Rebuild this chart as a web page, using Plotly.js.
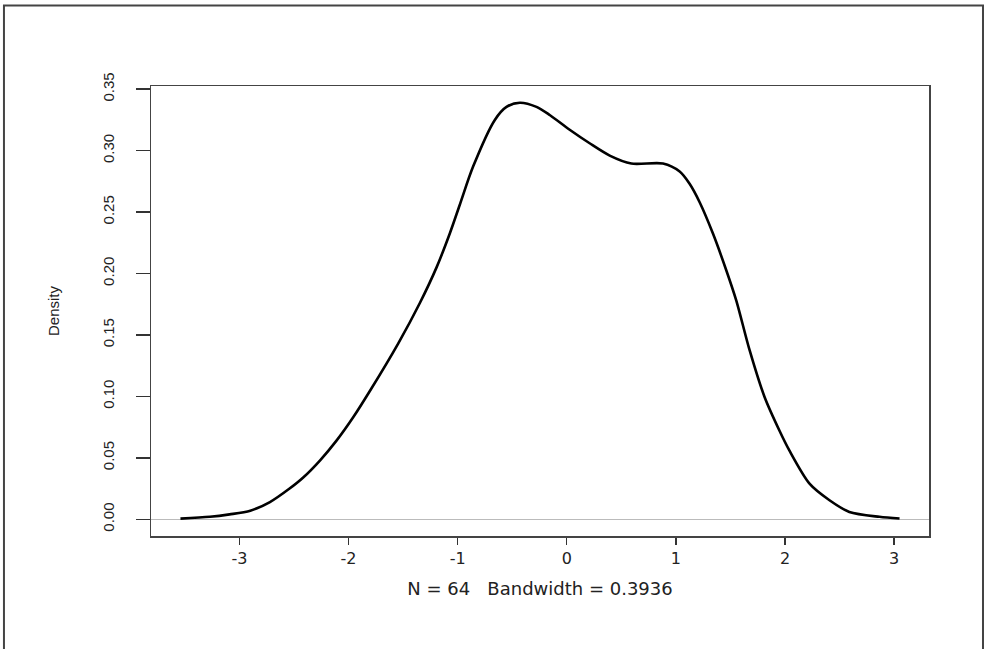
<!DOCTYPE html>
<html>
<head>
<meta charset="utf-8">
<script src="https://cdn.plot.ly/plotly-3.0.1.min.js"></script>
<style>html,body{margin:0;padding:0;background:#fff;}#chart{width:987px;height:649px;}</style>
</head>
<body>
<div id="chart"></div>
<script>
// Density estimate
const densX = [-3.54, -3.27, -3.09, -2.90, -2.72, -2.54, -2.415, -2.26, -2.11, -1.957, -1.80, -1.545, -1.346, -1.193, -1.07, -0.98, -0.858, -0.659, -0.552, -0.43, -0.277, -0.156, 0.027, 0.21, 0.394, 0.592, 0.882, 1.035, 1.126, 1.218, 1.34, 1.462, 1.554, 1.676, 1.813, 1.95, 2.04, 2.225, 2.408, 2.59, 2.866, 3.05];
const densY = [0.0005, 0.002, 0.004, 0.007, 0.014, 0.025, 0.034, 0.048, 0.064, 0.083, 0.105, 0.143, 0.176, 0.205, 0.233, 0.256, 0.287, 0.325, 0.3356, 0.339, 0.3356, 0.329, 0.317, 0.306, 0.296, 0.2895, 0.2895, 0.283, 0.273, 0.258, 0.2325, 0.2027, 0.178, 0.1376, 0.0995, 0.072, 0.056, 0.029, 0.0155, 0.006, 0.002, 0.0006];
const xTickVals = [-3, -2, -1, 0, 1, 2, 3];
const xTickText = ["-3", "-2", "-1", "0", "1", "2", "3"];
const yTickVals = [0, 0.05, 0.10, 0.15, 0.20, 0.25, 0.30, 0.35];
const yTickText = ["0.00", "0.05", "0.10", "0.15", "0.20", "0.25", "0.30", "0.35"];
const xTitle = "N = 64   Bandwidth = 0.3936";
const yTitle = "Density";

const font = "Liberation Sans, Arial, sans-serif";
const wideFont = "DejaVu Sans, Liberation Sans, sans-serif";

const trace = {
  x: densX, y: densY, type: "scatter", mode: "lines",
  line: {color: "#000", width: 2.6, shape: "spline", smoothing: 0.8},
  hoverinfo: "skip"
};

const layout = {
  width: 987, height: 649,
  margin: {l: 151, r: 58, t: 86, b: 113, pad: 0},
  paper_bgcolor: "#fff", plot_bgcolor: "#fff",
  showlegend: false,
  font: {family: font, color: "#222", size: 14},
  xaxis: {
    range: [-3.81, 3.32], showgrid: false, zeroline: false,
    tickmode: "array", tickvals: xTickVals, ticktext: xTickText,
    ticks: "outside", ticklen: 7, tickwidth: 1.5, tickcolor: "#333",
    showline: true, mirror: true, linecolor: "#444", linewidth: 1.5,
    tickfont: {family: wideFont, size: 16, color: "#222"},
    title: {text: xTitle, font: {family: wideFont, size: 18, color: "#222"}, standoff: 15},
    automargin: false
  },
  yaxis: {
    range: [-0.0136, 0.3526], showgrid: false,
    zeroline: true, zerolinecolor: "#bbb", zerolinewidth: 1,
    tickmode: "array", tickvals: yTickVals, ticktext: yTickText, tickangle: -90,
    ticks: "outside", ticklen: 14, tickwidth: 1.5, tickcolor: "#333",
    ticklabelstandoff: 16,
    showline: true, mirror: true, linecolor: "#444", linewidth: 1.5,
    tickfont: {family: font, size: 15, color: "#222"},
    title: {text: yTitle, font: {family: font, size: 15, color: "#222"}, standoff: 36},
    automargin: false
  },
  shapes: [{
    type: "rect", xref: "paper", yref: "paper",
    x0: -0.189, x1: 1.0694, y0: -0.26, y1: 1.1789,
    line: {color: "#444", width: 2}, fillcolor: "rgba(0,0,0,0)", layer: "below"
  }]
};

Plotly.newPlot("chart", [trace], layout, {displayModeBar: false, staticPlot: true});
</script>
</body>
</html>
